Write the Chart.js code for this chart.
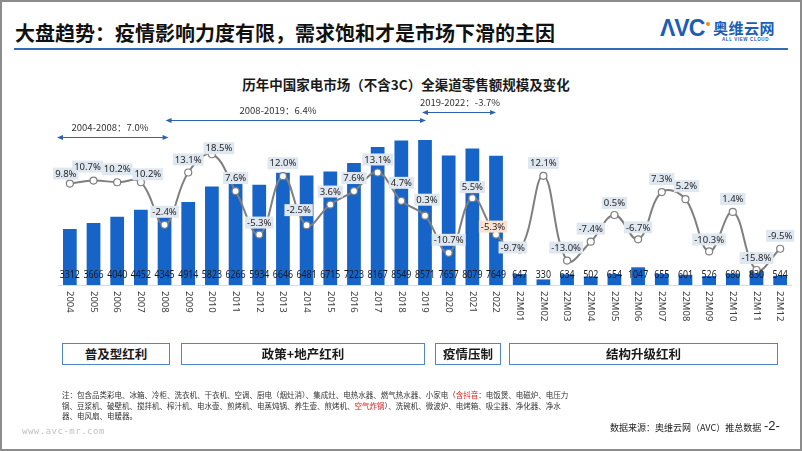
<!DOCTYPE html>
<html><head><meta charset="utf-8">
<script src="https://cdn.jsdelivr.net/npm/chart.js@4.4.1/dist/chart.umd.min.js"></script>
<style>
html,body{margin:0;padding:0;background:#fff;}
#page{position:relative;width:802px;height:451px;overflow:hidden;font-family:"Noto Sans CJK SC","Noto Sans",sans-serif;color:#1a1a1a;}
.frame{position:absolute;left:0;top:0;width:798px;height:447px;border:2px solid #8c8c8c;}
.hdr{position:absolute;left:15px;top:19px;font-size:20px;font-weight:700;line-height:28px;color:#111;white-space:nowrap;}
.hline{position:absolute;left:14px;top:48px;width:774px;height:2px;background:#2f6db5;}
.avc{position:absolute;left:660px;top:15px;font-family:"Liberation Sans",Arial,sans-serif;font-weight:700;font-size:23px;color:#1c5db6;letter-spacing:-1px;}
.dot{position:absolute;left:706px;top:22px;width:4px;height:4px;border-radius:50%;background:#f08a1c;}
.cn{position:absolute;left:713px;top:17px;font-size:15px;font-weight:700;color:#1c5db6;letter-spacing:0.5px;}
.en{position:absolute;left:722px;top:37px;font-family:"Liberation Sans",Arial,sans-serif;font-size:4.5px;font-weight:700;color:#1c5db6;letter-spacing:0.6px;}
.ctitle{position:absolute;left:0;width:812px;top:74px;text-align:center;font-size:13.5px;font-weight:700;color:#1a1a1a;}
.box{position:absolute;top:343px;height:20px;border:1.5px solid #4f86c6;background:#fff;text-align:center;font-size:12.5px;font-weight:700;line-height:20px;color:#1a1a1a;}
.note{position:absolute;left:62px;top:390px;font-size:7.5px;line-height:10.5px;color:#333;white-space:nowrap;}
.red{color:#e02020;}
.www{position:absolute;left:22px;top:426px;font-family:"DejaVu Sans Mono",monospace;font-size:9px;color:#c0c0c0;letter-spacing:0.5px;}
.src{position:absolute;left:610px;top:421px;font-size:9px;color:#222;}
.pg{position:absolute;left:764px;top:418px;font-family:"Liberation Sans",Arial,sans-serif;font-size:13px;color:#222;}
canvas{position:absolute;left:0;top:0;}
</style></head>
<body>
<div id="page">
<div class="frame"></div>
<div class="hdr">大盘趋势：疫情影响力度有限，需求饱和才是市场下滑的主因</div>
<div class="hline"></div>
<div class="avc">ΛVC</div><div class="dot"></div>
<div class="cn">奥维云网</div>
<div class="en">ALL VIEW CLOUD</div>
<div class="ctitle">历年中国家电市场（不含3C）全渠道零售额规模及变化</div>
<canvas id="c" width="802" height="451"></canvas>
<div class="box" style="left:62px;width:106px;">普及型红利</div>
<div class="box" style="left:181px;width:242px;">政策+地产红利</div>
<div class="box" style="left:435px;width:64px;">疫情压制</div>
<div class="box" style="left:509px;width:267px;">结构升级红利</div>
<div class="note">注：包含品类彩电、冰箱、冷柜、洗衣机、干衣机、空调、厨电（烟灶消）、集成灶、电热水器、燃气热水器、小家电（<span class="red">含抖音</span>：电饭煲、电磁炉、电压力<br>锅、豆浆机、破壁机、搅拌机、榨汁机、电水壶、煎烤机、电蒸炖锅、养生壶、煎烤机、<span class="red">空气炸锅</span>）、洗碗机、微波炉、电烤箱、吸尘器、净化器、净水<br>器、电风扇、电暖器。</div>
<div class="www">www.avc-mr.com</div>
<div class="src">数据来源：奥维云网（AVC）推总数据</div>
<div class="pg">-2-</div>
</div>
<script>
// ---- data ----
const categories = ['2004','2005','2006','2007','2008','2009','2010','2011','2012','2013','2014','2015','2016','2017','2018','2019','2020','2021','2022',
  '22M01','22M02','22M03','22M04','22M05','22M06','22M07','22M08','22M09','22M10','22M11','22M12'];
const salesValues = [3312,3666,4040,4452,4345,4914,5823,6266,5934,6646,6481,6715,7223,8167,8549,8571,7657,8079,7649,
  647,330,634,502,654,1047,655,601,526,680,830,544];
const growthRates = [9.8,10.7,10.2,10.2,-2.4,13.1,18.5,7.6,-5.3,12.0,-2.5,3.6,7.6,13.1,4.7,0.3,-10.7,5.5,-5.3,
  -9.7,12.1,-13.0,-7.4,0.5,-6.7,7.3,5.2,-10.3,1.4,-15.8,-9.5];
const periodLabels = ['2004-2008：7.0%','2008-2019：6.4%','2019-2022：-3.7%'];
const periodRanges = [[0,4],[4,15],[15,18]];

// ---- label placement (styling only) ----
const labelDx = [-4,-6,0,7,0,0,7,0,0,0,-8,0,0,0,0,2,0,0,-3,-7,0,-1,0,0,0,0,1,0,0,0,0];
const labelDy = [-10,-14,-13,-8,-13,-13,-6,-13,-12,-13,-15,-13,-13,-13,-18,-16,-13,-11,-8,-2,-13,-13,-13,-12,-12,-13,-13,-12,-13,-12,-13];
const highlightIdx = 18;

const deco = {
  id:'deco',
  beforeDatasetsDraw(chart){
    const ctx=chart.ctx, ca=chart.chartArea;
    ctx.save();
    ctx.strokeStyle='#d5dce6'; ctx.lineWidth=1;
    ctx.beginPath(); ctx.moveTo(ca.left, Math.round(ca.bottom)+0.5); ctx.lineTo(ca.right, Math.round(ca.bottom)+0.5); ctx.stroke();
    ctx.restore();
  },
  afterDatasetsDraw(chart){
    const ctx=chart.ctx, xs=chart.scales.x, ca=chart.chartArea;
    ctx.save();
    // bar value labels (condensed)
    ctx.font='11px "Noto Sans", sans-serif';
    ctx.fillStyle='#1a1a1a'; ctx.textAlign='center'; ctx.textBaseline='middle';
    salesValues.forEach((v,i)=>{
      ctx.save(); ctx.translate(xs.getPixelForValue(i), ca.bottom-10); ctx.scale(0.8,1);
      ctx.fillText(String(v), 0, 0); ctx.restore();
    });
    // x tick labels rotated (top-to-bottom)
    ctx.font='9.5px "Noto Sans", sans-serif';
    ctx.fillStyle='#404040'; ctx.textAlign='left'; ctx.textBaseline='middle';
    categories.forEach((c,i)=>{
      ctx.save(); ctx.translate(xs.getPixelForValue(i), ca.bottom+6); ctx.rotate(Math.PI/2);
      ctx.fillText(c,0,0); ctx.restore();
    });
    // growth labels
    const meta = chart.getDatasetMeta(1);
    ctx.font='9.5px "Noto Sans", sans-serif';
    growthRates.forEach((v,i)=>{
      const p=meta.data[i];
      const t=v.toFixed(1)+'%';
      const w=ctx.measureText(t).width+4, h=12;
      const cx=p.x+labelDx[i], cy=p.y+labelDy[i];
      ctx.fillStyle = i===highlightIdx ? '#fbe2d0' : '#dfe7f1';
      ctx.fillRect(cx-w/2, cy-h/2, w, h);
      ctx.fillStyle='#262626'; ctx.textAlign='center'; ctx.textBaseline='middle';
      ctx.fillText(t, cx, cy+0.5);
    });
    // period arrows
    const ys=[137,120,112];
    const x0s=[ca.left-1, xs.getPixelForValue(periodRanges[1][0])+1, xs.getPixelForValue(periodRanges[2][0])-3];
    const x1s=[xs.getPixelForValue(periodRanges[0][1])+4, xs.getPixelForValue(periodRanges[1][1])+1, xs.getPixelForValue(periodRanges[2][1])];
    const tx=[110,278,460];
    ctx.strokeStyle='#2e62ad'; ctx.fillStyle='#2e62ad'; ctx.lineWidth=1;
    periodLabels.forEach((lab,k)=>{
      const y=ys[k]+0.5, a=x0s[k], b=x1s[k];
      ctx.beginPath(); ctx.moveTo(a+4,y); ctx.lineTo(b-4,y); ctx.stroke();
      ctx.beginPath(); ctx.moveTo(a,y); ctx.lineTo(a+6,y-2.5); ctx.lineTo(a+6,y+2.5); ctx.closePath(); ctx.fill();
      ctx.beginPath(); ctx.moveTo(b,y); ctx.lineTo(b-6,y-2.5); ctx.lineTo(b-6,y+2.5); ctx.closePath(); ctx.fill();
    });
    ctx.font='9.5px "Noto Sans CJK SC", sans-serif';
    ctx.fillStyle='#333'; ctx.textAlign='center'; ctx.textBaseline='middle';
    periodLabels.forEach((lab,k)=>{ ctx.fillText(lab, tx[k], ys[k]-10); });
    ctx.restore();
  }
};

new Chart(document.getElementById('c'), {
  type:'bar',
  data:{
    labels:categories,
    datasets:[
      {type:'bar', data:salesValues, yAxisID:'y', backgroundColor:'#1764c8', barPercentage:0.58, categoryPercentage:1, order:1},
      {type:'line', data:growthRates, yAxisID:'y1', borderColor:'#7f7f7f', borderWidth:2, tension:0.4,
       pointRadius:3.5, pointBackgroundColor:'#ffffff', pointBorderColor:'#7f7f7f', pointBorderWidth:1.2, clip:false, order:0}
    ]
  },
  options:{
    responsive:false, animation:false, devicePixelRatio:1,
    layout:{padding:{left:58, right:10, top:130, bottom:166}},
    plugins:{legend:{display:false}, tooltip:{enabled:false}},
    scales:{
      x:{display:false, offset:true},
      y:{display:false, min:0, max:9168},
      y1:{display:false, min:-20.24, max:25.69}
    }
  },
  plugins:[deco]
});
</script>
</body></html>
